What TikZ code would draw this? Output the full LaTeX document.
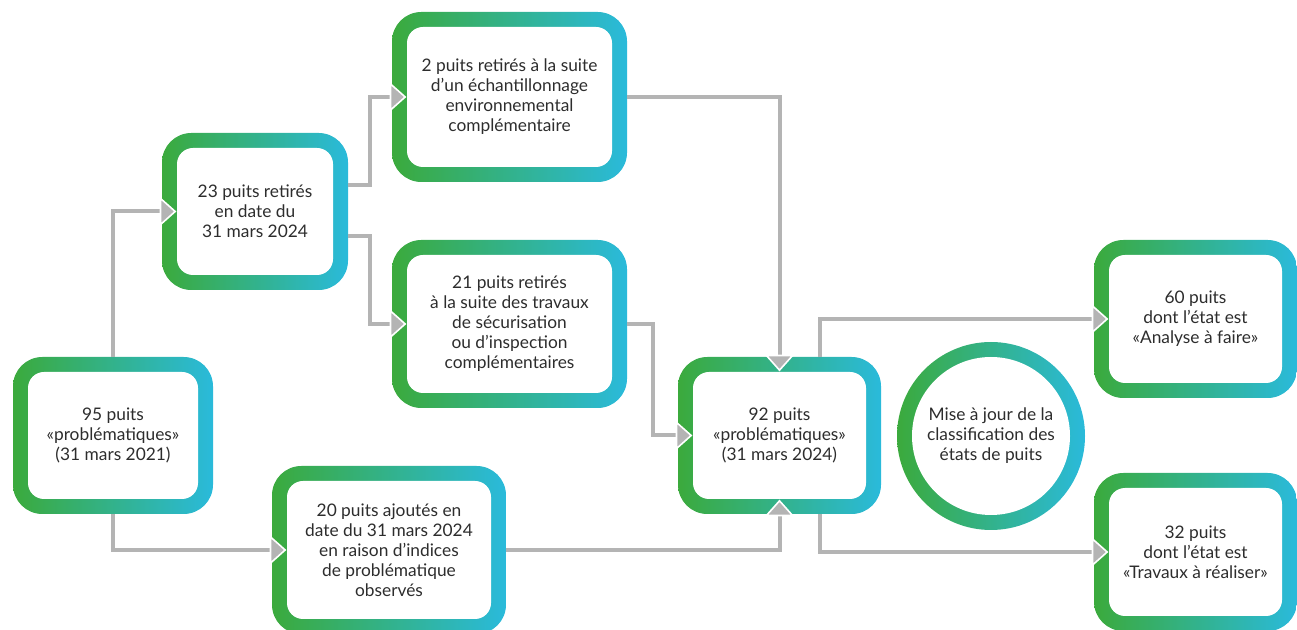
\documentclass[tikz,border=0pt]{standalone}
\usepackage{fontspec}
\setmainfont{Lato}
\usetikzlibrary{arrows.meta,calc}
\definecolor{vertpuits}{RGB}{59,170,60}
\definecolor{bleupuits}{RGB}{42,186,219}
\definecolor{fleche}{RGB}{180,180,180}
\definecolor{texte}{RGB}{45,45,45}
\tikzset{
  puits/.style={rectangle, rounded corners=22pt, left color=vertpuits, right color=bleupuits,
    text=texte, align=center, font=\fontsize{13}{15}\selectfont,
    path picture={\fill[white,rounded corners=12pt] ($(path picture bounding box.south west)+(15,15)$) rectangle ($(path picture bounding box.north east)+(-15,-15)$);}},
  bilan/.style={circle, left color=vertpuits, right color=bleupuits, minimum size=141pt,
    text=texte, align=center, font=\fontsize{13}{15}\selectfont,
    path picture={\fill[white] (path picture bounding box.center) circle[radius=59.25pt];}},
  flux/.style={draw=fleche, line width=3pt, shorten >=-11pt,
    -{Triangle[width=22pt,length=12.5pt,color=white,fill=fleche,line width=1.2pt]}}
}
\begin{document}
\begin{tikzpicture}[x=0.75pt,y=0.75pt,yscale=-1,xscale=1]
    \useasboundingbox (0,0) rectangle (1297,630);
    % Boites
    \node[puits, minimum width=150pt, minimum height=117.75pt] (p95) at (113,435.5) {95 puits\\«problématiques»\\(31 mars 2021)};
    \node[puits, minimum width=139.5pt, minimum height=117.75pt] (p23) at (255,211.5) {23 puits retirés\\en date du\\31 mars 2024};
    \node[puits, minimum width=176.25pt, minimum height=127.5pt] (p2) at (509.5,97) {2 puits retirés à la suite\\d’un échantillonnage\\environnemental\\complémentaire};
    \node[puits, minimum width=176.25pt, minimum height=126pt] (p21) at (509.5,324) {21 puits retirés\\à la suite des travaux\\de sécurisation\\ou d’inspection\\complémentaires};
    \node[puits, minimum width=175.5pt, minimum height=126pt] (p20) at (389,550) {20 puits ajoutés en\\date du 31 mars 2024\\en raison d’indices\\de problématique\\observés};
    \node[puits, minimum width=152.25pt, minimum height=117.75pt] (p92) at (779.5,435.5) {92 puits\\«problématiques»\\(31 mars 2024)};
    \node[bilan] (maj) at (991,436) {Mise à jour de la\\classification des\\états de puits};
    \node[puits, minimum width=152.25pt, minimum height=118.5pt] (p60) at (1195.5,319) {60 puits\\dont l’état est\\«Analyse à faire»};
    \node[puits, minimum width=152.25pt, minimum height=118.5pt] (p32) at (1195.5,552) {32 puits\\dont l’état est\\«Travaux à réaliser»};
    % Fleches
    \draw[flux] (p95.north) |- (p23.west);
    \draw[flux] (p95.south) |- (p20.west);
    \draw[flux] ($(p23.east)+(0,-26)$) -- ++(22,0) |- (p2.west);
    \draw[flux] ($(p23.east)+(0,25)$) -- ++(22,0) |- (p21.west);
    \draw[flux] (p2.east) -| (p92.north);
    \draw[flux] (p21.east) -- ++(26,0) |- (p92.west);
    \draw[flux] (p20.east) -| (p92.south);
    \draw[flux] ($(p92.north)+(40,0)$) |- (p60.west);
    \draw[flux] ($(p92.south)+(40,0)$) |- (p32.west);
\end{tikzpicture}
\end{document}
